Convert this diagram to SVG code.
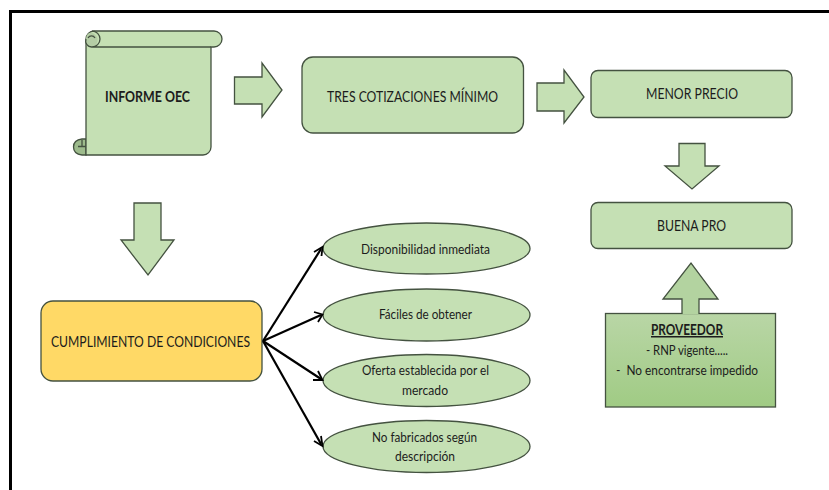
<svg xmlns="http://www.w3.org/2000/svg" width="829" height="490" viewBox="0 0 829 490">
<style>
text{font-family:"Lato","Liberation Sans",sans-serif;font-size:15px;fill:#1c1c1c}
.e{font-size:14px}
.s{fill:#c5e0b4;stroke:#445240;stroke-width:1.300}
.c{fill:none;stroke:#000;stroke-width:2.200}
.a{fill:none;stroke:#000;stroke-width:1.800}
</style>
<defs>
<linearGradient id="g1" x1="0" y1="0" x2="0" y2="1"><stop offset="0" stop-color="#b9d6a6"/><stop offset="1" stop-color="#a0cb84"/></linearGradient>
</defs>
<rect width="829" height="490" fill="#fff"/>
<path d="M10.500 490V11.500H829" fill="none" stroke="#000" stroke-width="3"/>
<g id="informe">
<path d="M86 139H82Q73.500 140 73.500 147T82 155H86z" fill="#9dbb8c" stroke="#445240" stroke-width="1.300"/>
<path class="s" d="M86 155V39a8 8 0 0 1 8-8H214a8 8 0 0 1 0 16H211V147a8 8 0 0 1-8 8z"/>
<path d="M88 47a5.500 5.500 0 0 1-2-4V39q0-4 3-6a7 7 0 0 1 3 14z" fill="#b4cda5" stroke="none"/>
<path fill="none" stroke="#445240" stroke-width="1.300" d="M92 31a8 8 0 0 1 0 16H211M92 47a6 6 0 0 1-6-8M88 38a4 4 0 0 1 7 0M78 146.500h8M82 140v6.500"/>
<text x="105" y="102" font-weight="bold" textLength="85" lengthAdjust="spacingAndGlyphs">INFORME OEC</text>
</g>
<g id="tres"><rect class="s" x="302" y="57" width="221.500" height="76" rx="11"/><text x="327" y="102" textLength="171" lengthAdjust="spacingAndGlyphs">TRES COTIZACIONES MÍNIMO</text></g>
<g id="menor"><rect class="s" x="591" y="70.500" width="201" height="47" rx="7"/><text x="646" y="99" textLength="92" lengthAdjust="spacingAndGlyphs">MENOR PRECIO</text></g>
<g id="buena"><rect class="s" x="591" y="202.500" width="201" height="46" rx="7"/><text x="657" y="231" textLength="69" lengthAdjust="spacingAndGlyphs">BUENA PRO</text></g>
<g id="cumplimiento"><rect x="41" y="301" width="221" height="80" rx="12" fill="#ffd966" stroke="#445240" stroke-width="1.300"/><text x="51" y="347" textLength="199" lengthAdjust="spacingAndGlyphs">CUMPLIMIENTO DE CONDICIONES</text></g>
<g id="e1"><ellipse class="s" cx="426.500" cy="248.500" rx="103.500" ry="25.500"/><text class="e" x="361" y="254" textLength="129" lengthAdjust="spacingAndGlyphs">Disponibilidad inmediata</text></g>
<g id="e2"><ellipse class="s" cx="426.500" cy="315" rx="103.500" ry="26"/><text class="e" x="379" y="319" textLength="93" lengthAdjust="spacingAndGlyphs">Fáciles de obtener</text></g>
<g id="e3"><ellipse class="s" cx="426.500" cy="380.500" rx="103.500" ry="26"/><text class="e" x="362" y="375" textLength="127" lengthAdjust="spacingAndGlyphs">Oferta establecida por el</text><text class="e" x="402" y="395" textLength="46" lengthAdjust="spacingAndGlyphs">mercado</text></g>
<g id="e4"><ellipse class="s" cx="426.500" cy="446.500" rx="103.500" ry="26"/><text class="e" x="372" y="442" textLength="105" lengthAdjust="spacingAndGlyphs">No fabricados según</text><text class="e" x="395" y="461" textLength="60" lengthAdjust="spacingAndGlyphs">descripción</text></g>
<g id="proveedor"><rect x="605.500" y="313.500" width="170" height="93.500" fill="url(#g1)" stroke="#445240" stroke-width="1.300"/>
<text x="651" y="335" font-weight="bold" text-decoration="underline" textLength="72" lengthAdjust="spacingAndGlyphs">PROVEEDOR</text>
<text class="e" x="646" y="355" textLength="82" lengthAdjust="spacingAndGlyphs">- RNP vigente.....</text>
<text class="e" x="616" y="375" textLength="142" lengthAdjust="spacingAndGlyphs" xml:space="preserve">-  No encontrarse impedido</text></g>
<g id="connectors">
<path class="s" d="M234.500 77H262V63L282 90 262 117V104H234.500z"/>
<path class="s" d="M537 83H564V70L584 97 564 123V111H537z"/>
<path class="s" d="M679 143.500H705V166H719L692 189 665 166H679z"/>
<path class="s" d="M134 203H161V240H174L148 275 121 240H134z"/>
<path d="M682 314V299H663L691 263 718 299H699V314" fill="#b3d3a0" stroke="#445240" stroke-width="1.300"/>
<path class="c" d="M263 341L321 249"/><path class="a" d="M314 252L322.500 247L321.500 256"/>
<path class="c" d="M263 341L321 315"/><path class="a" d="M314 312L322.500 314.500L318 322"/>
<path class="c" d="M263 341L321 379"/><path class="a" d="M318 371L322.500 380L313 380"/>
<path class="c" d="M263 341L321 444"/><path class="a" d="M321 436L322.500 446L314 441"/>
</g>
</svg>
